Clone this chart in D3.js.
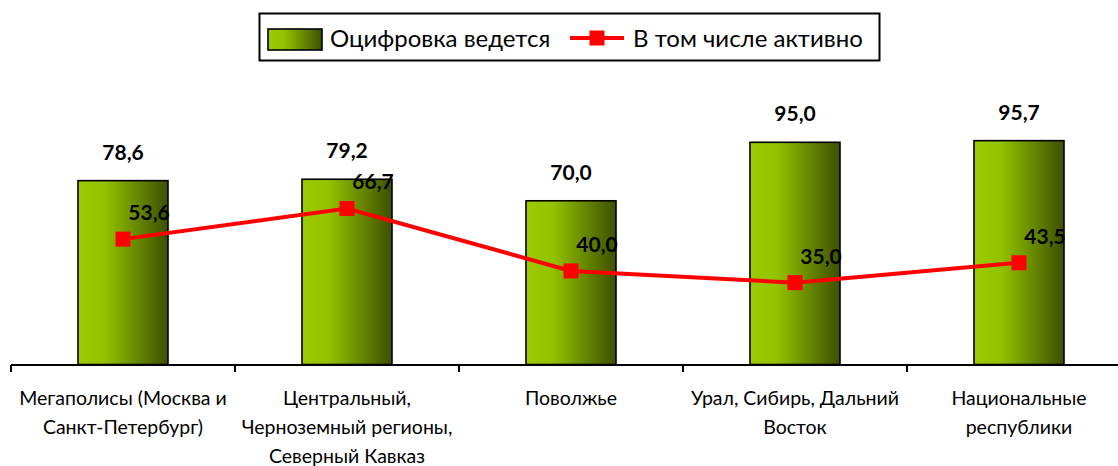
<!DOCTYPE html>
<html><head><meta charset="utf-8">
<script src="https://cdn.jsdelivr.net/npm/d3@7"></script>
<style>
html,body{margin:0;padding:0;background:#fff;}
svg{display:block;}
text{font-family:Lato,"Open Sans","Noto Sans",sans-serif;}
</style></head>
<body>
<svg id="chart" width="1118" height="466"></svg>
<script>
const categories = [
  "Мегаполисы (Москва и\nСанкт-Петербург)",
  "Центральный,\nЧерноземный регионы,\nСеверный Кавказ",
  "Поволжье",
  "Урал, Сибирь, Дальний\nВосток",
  "Национальные\nреспублики"
];
const digitized = [78.6, 79.2, 70.0, 95.0, 95.7];
const active = [53.6, 66.7, 40.0, 35.0, 43.5];
const seriesNames = ["Оцифровка ведется", "В том числе активно"];

const svg = d3.select("#chart");
const fmt = v => d3.format(".1f")(v).replace(".", ",");

const defs = svg.append("defs");
const grad = defs.append("linearGradient").attr("id","barGrad")
  .attr("x1","0%").attr("x2","100%").attr("y1","0%").attr("y2","0%");
grad.append("stop").attr("offset","0%").attr("stop-color","#9BCB00");
grad.append("stop").attr("offset","30%").attr("stop-color","#93C200");
grad.append("stop").attr("offset","100%").attr("stop-color","#3E5000");

const x0 = 11, step = 224;
const xCat = d3.scaleBand().domain(categories).range([x0, x0 + step*categories.length]).padding(0);
const xBar = d3.scaleBand().domain(categories).range([x0, x0 + step*categories.length])
  .paddingInner(1 - 90/224).paddingOuter((1 - 90/224)/2);
const y = d3.scaleLinear().domain([0, 100]).range([364.5, 130.6]);
const cx = c => xCat(c) + xCat.bandwidth()/2;

// bars
svg.append("g").selectAll("rect").data(categories).join("rect")
  .attr("x", c => xBar(c))
  .attr("y", (c,i) => y(digitized[i]))
  .attr("width", xBar.bandwidth())
  .attr("height", (c,i) => y(0) - y(digitized[i]))
  .attr("fill","url(#barGrad)")
  .attr("stroke","#000").attr("stroke-width",1.6);

// bar labels
svg.append("g").selectAll("text").data(categories).join("text")
  .attr("x", c => cx(c))
  .attr("y", (c,i) => y(digitized[i]) - 21)
  .attr("text-anchor","middle")
  .attr("font-size",21).attr("font-weight","bold").attr("fill","#000")
  .text((c,i) => fmt(digitized[i]));

// axis line and ticks
const axisY = y(0) + 0.5;
const axisG = svg.append("g");
axisG.append("line").attr("x1", x0).attr("x2", 1118).attr("y1", axisY).attr("y2", axisY)
  .attr("stroke","#000").attr("stroke-width",2);
const tickPos = categories.map(c => xCat(c));
axisG.selectAll("line.tick").data(tickPos).join("line").attr("class","tick")
  .attr("x1", d => d).attr("x2", d => d).attr("y1", axisY).attr("y2", axisY + 7)
  .attr("stroke","#000").attr("stroke-width",2);

// x labels
const lab = svg.append("g").selectAll("text").data(categories).join("text")
  .attr("text-anchor","middle").attr("font-size",19.5).attr("fill","#000");
lab.each(function(c){
  const lines = c.split("\n");
  d3.select(this).selectAll("tspan").data(lines).join("tspan")
    .attr("x", cx(c)).attr("y", (l,j) => 405 + j*29).text(l => l);
});

// line series
const line = d3.line().x((d,i) => cx(categories[i])).y(d => y(d));
svg.append("path").datum(active).attr("d", line)
  .attr("fill","none").attr("stroke","#FF0000").attr("stroke-width",4);
svg.append("g").selectAll("rect").data(active).join("rect")
  .attr("x",(d,i) => cx(categories[i]) - 7.5).attr("y", d => y(d) - 7.5)
  .attr("width",15).attr("height",15).attr("fill","#FF0000");
svg.append("g").selectAll("text").data(active).join("text")
  .attr("x",(d,i) => cx(categories[i]) + 26).attr("y", d => y(d) - 19)
  .attr("text-anchor","middle")
  .attr("font-size",21).attr("font-weight","bold").attr("fill","#000")
  .text(d => fmt(d));

// legend
const lg = svg.append("g");
lg.append("rect").attr("x",259.5).attr("y",13.5).attr("width",620).attr("height",47)
  .attr("fill","#fff").attr("stroke","#000").attr("stroke-width",2);
lg.append("rect").attr("x",268).attr("y",29).attr("width",54).attr("height",21)
  .attr("fill","url(#barGrad)").attr("stroke","#000").attr("stroke-width",1.6);
lg.append("text").attr("x",330).attr("y",47).attr("font-size",24).attr("fill","#000").text(seriesNames[0]);
lg.append("line").attr("x1",570).attr("x2",624).attr("y1",38).attr("y2",38)
  .attr("stroke","#FF0000").attr("stroke-width",4);
lg.append("rect").attr("x",589.5).attr("y",30.5).attr("width",15).attr("height",15).attr("fill","#FF0000");
lg.append("text").attr("x",633).attr("y",47).attr("font-size",24).attr("fill","#000").text(seriesNames[1]);
</script>
</body></html>
